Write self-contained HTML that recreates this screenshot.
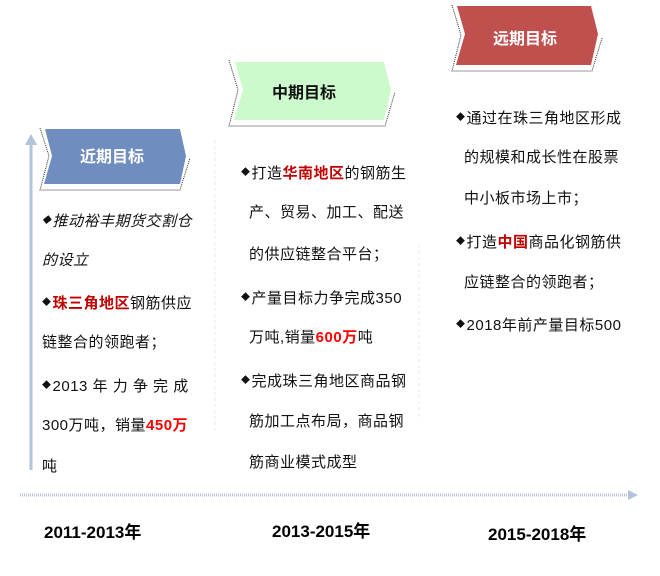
<!DOCTYPE html>
<html><head><meta charset="utf-8"><style>
body{margin:0;width:660px;height:576px;background:#fff;position:relative;overflow:hidden;font-family:"Liberation Sans","Noto Sans CJK SC",sans-serif;}
.l{position:absolute;font-size:15px;line-height:18px;white-space:nowrap;color:#111;letter-spacing:0.5px;}
.r{color:#c00000;font-weight:bold;}
.rr{color:#ff0000;font-weight:bold;}
.y{position:absolute;font-size:17px;font-weight:bold;top:518px;white-space:nowrap;}
.b{font-size:9px;vertical-align:3px;margin-right:1px;}
.h{position:absolute;font-size:16px;line-height:18px;font-weight:bold;white-space:nowrap;}
</style></head><body>
<svg width="660" height="576" style="position:absolute;left:0;top:0">
<line x1="31" y1="470" x2="31" y2="142" stroke="#b4c3dc" stroke-width="3"/>
<polygon points="31,134 25,145 37,145" fill="#b4c3dc"/>
<line x1="20" y1="495" x2="630" y2="495" stroke="#b4c3dc" stroke-width="3" stroke-dasharray="1,1"/>
<polygon points="638,495 628,490 628,500" fill="#b4c3dc"/>
<polyline points="40,128 49,156 40,190 180,190 190,158" fill="none" stroke="#333" stroke-width="1" stroke-dasharray="1,1"/>
<polyline points="229,60 238,90 229,126 385,126 395,92" fill="none" stroke="#333" stroke-width="1" stroke-dasharray="1,1"/>
<polyline points="452,5 461,35 452,71 592,71 602,38" fill="none" stroke="#333" stroke-width="1" stroke-dasharray="1,1"/>
<polygon points="45,129 180,129 186,156 180,184 44,184 52,156" fill="#6f8dbf"/>
<polygon points="235,62 384,62 391,90 384,120 234,120 243,90" fill="#ccfacc"/>
<polygon points="457,6 591,6 598,34 591,65 456,65 465,34" fill="#c0504d"/>
<line x1="215" y1="140" x2="215" y2="430" stroke="#e8e8e0" stroke-width="1" stroke-dasharray="3,3"/>
<line x1="419" y1="245" x2="419" y2="420" stroke="#e8e8e0" stroke-width="1" stroke-dasharray="3,3"/>
</svg>
<div class="h" style="left:80px;top:149px;color:#fff">近期目标</div>
<div class="h" style="left:272px;top:85px;color:#111">中期目标</div>
<div class="h" style="left:493px;top:31px;color:#fff">远期目标</div>

<div class="l" style="left:42px;top:211px;font-style:italic"><span class="b">◆</span>推动裕丰期货交割仓</div>
<div class="l" style="left:42px;top:252px;font-style:italic">的设立</div>
<div class="l" style="left:42px;top:293px"><span class="b">◆</span><span class="r">珠三角地区</span>钢筋供应</div>
<div class="l" style="left:42px;top:334px">链整合的领跑者；</div>
<div class="l" style="left:42px;top:376px"><span class="b">◆</span>2013 年 力 争 完 成</div>
<div class="l" style="left:42px;top:417px">300万吨，销量<span class="rr">450万</span></div>
<div class="l" style="left:42px;top:458px">吨</div>

<div class="l" style="left:241px;top:163px"><span class="b">◆</span>打造<span class="r">华南地区</span>的钢筋生</div>
<div class="l" style="left:249px;top:204px">产、贸易、加工、配送</div>
<div class="l" style="left:249px;top:246px">的供应链整合平台；</div>
<div class="l" style="left:241px;top:288px"><span class="b">◆</span>产量目标力争完成350</div>
<div class="l" style="left:249px;top:329px">万吨,销量<span class="rr">600万</span>吨</div>
<div class="l" style="left:241px;top:371px"><span class="b">◆</span>完成珠三角地区商品钢</div>
<div class="l" style="left:249px;top:413px">筋加工点布局，商品钢</div>
<div class="l" style="left:249px;top:454px">筋商业模式成型</div>

<div class="l" style="left:456px;top:108px"><span class="b">◆</span>通过在珠三角地区形成</div>
<div class="l" style="left:464px;top:149px">的规模和成长性在股票</div>
<div class="l" style="left:464px;top:190px">中小板市场上市；</div>
<div class="l" style="left:456px;top:232px"><span class="b">◆</span>打造<span class="r">中国</span>商品化钢筋供</div>
<div class="l" style="left:464px;top:274px">应链整合的领跑者；</div>
<div class="l" style="left:456px;top:315px"><span class="b">◆</span>2018年前产量目标500</div>

<div class="y" style="left:44px">2011-2013年</div>
<div class="y" style="left:272px;top:517px">2013-2015年</div>
<div class="y" style="left:488px;top:520px">2015-2018年</div>
</body></html>
